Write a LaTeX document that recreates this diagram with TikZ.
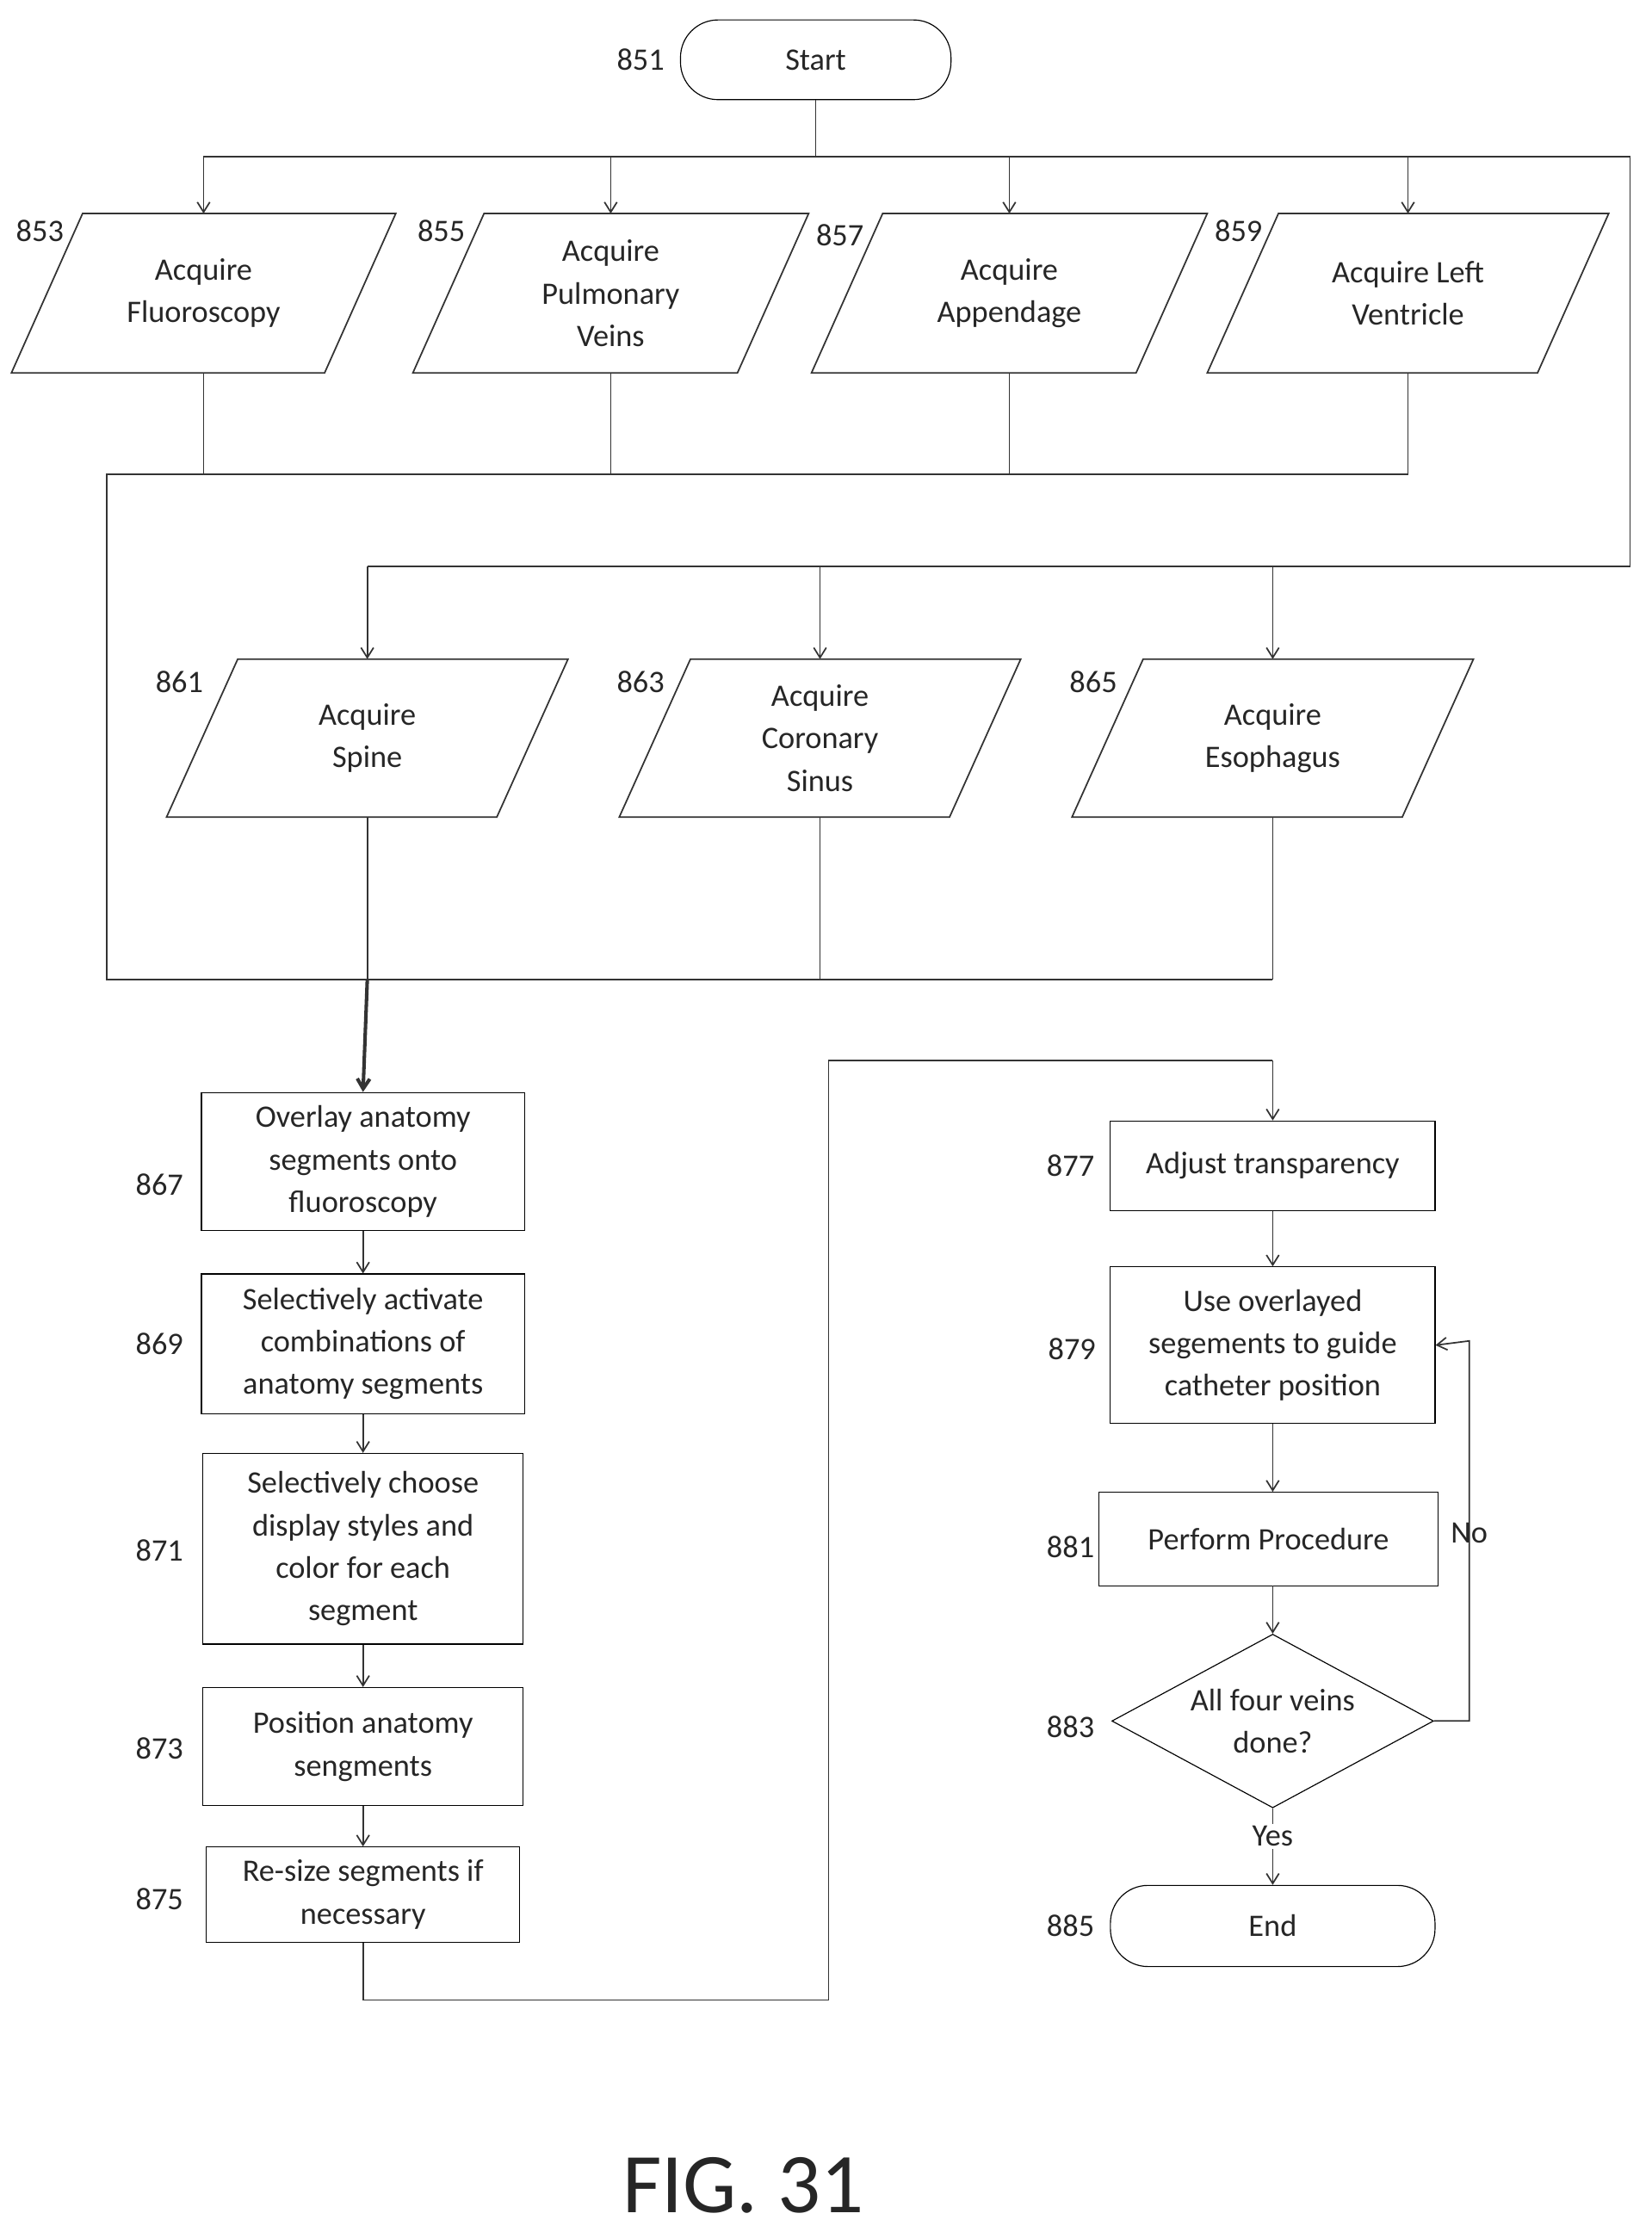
\documentclass[tikz,border=0pt]{standalone}
\usepackage{fontspec}
\setmainfont{Carlito}
\usetikzlibrary{shapes.geometric,arrows.meta}
\begin{document}
\begin{tikzpicture}[x=0.02cm,y=-0.02cm,
  every node/.style={font=\fontsize{12.5}{17}\selectfont, text=black!85},
  box/.style={draw, thin, align=center, inner sep=2pt},
  ln/.style={draw, black!80, line width=0.6pt},
  ar/.style={ln, -{Straight Barb[length=4pt,width=5pt]}},
  lbl/.style={font=\fontsize{12.5}{17}\selectfont}]
\useasboundingbox (0,0) rectangle (1160,1568);
% start
\node[box, rounded corners=15pt, minimum width=190*0.02cm, minimum height=56*0.02cm] (start) at (573,42) {Start};
\node[lbl] at (450,42) {851};
% parallelograms
\newcommand{\para}[6]{% name, cx, ytop, ybot, halfw, text
  \draw[ln] ({#2-#5+25},#3) -- ({#2+#5+25},#3) -- ({#2+#5-25},#4) -- ({#2-#5-25},#4) -- cycle;
  \node[align=center] (#1) at (#2,{(#3+#4)/2}) {#6};
  \coordinate (#1t) at (#2,#3); \coordinate (#1b) at (#2,#4);}
\para{p853}{143}{150}{262}{110}{Acquire\\Fluoroscopy}
\para{p855}{429}{150}{262}{114}{Acquire\\Pulmonary\\Veins}
\para{p857}{709}{150}{262}{114}{Acquire\\Appendage}
\para{p859}{989}{150}{262}{116}{Acquire Left\\Ventricle}
\para{p861}{258}{463}{574}{116}{Acquire\\Spine}
\para{p863}{576}{463}{574}{116}{Acquire\\Coronary\\Sinus}
\para{p865}{894}{463}{574}{116}{Acquire\\Esophagus}
\node[lbl] at (28,162) {853};
\node[lbl] at (310,162) {855};
\node[lbl] at (590,165) {857};
\node[lbl] at (870,162) {859};
\node[lbl] at (126,479) {861};
\node[lbl] at (450,479) {863};
\node[lbl] at (768,479) {865};
% top bus
\coordinate (s1) at (573,110);
\draw[ln] (start.south) -- (s1);
\draw[ln] (143,110) -- (1145,110) -- (1145,398) -- (258,398);
\foreach \n/\x in {p853/143,p855/429,p857/709,p859/989}
  \draw[ar] (\x,110) -- (\n t);
\foreach \n/\x in {p861/258,p863/576,p865/894}
  \draw[ar] (\x,398) -- (\n t);
% collection bus
\foreach \n in {p853,p855,p857,p859} \draw[ln] (\n b) -- ++(0,71);
\draw[ln] (989,333) -- (75,333) -- (75,688) -- (894,688);
\foreach \n in {p861,p863,p865} \draw[ln] (\n b) -- ++(0,114);
% left column
\node[box, minimum width=227*0.02cm, minimum height=97*0.02cm] (b867) at (255,816) {Overlay anatomy\\segments onto\\fluoroscopy};
\node[box, minimum width=227*0.02cm, minimum height=98*0.02cm] (b869) at (255,944) {Selectively activate\\combinations of\\anatomy segments};
\node[box, minimum width=225*0.02cm, minimum height=134*0.02cm] (b871) at (255,1088) {Selectively choose\\display styles and\\color for each\\segment};
\node[box, minimum width=225*0.02cm, minimum height=83*0.02cm] (b873) at (255,1227) {Position anatomy\\sengments};
\node[box, minimum width=220*0.02cm, minimum height=67*0.02cm] (b875) at (255,1331) {Re-size segments if\\necessary};
\node[lbl] at (112,832) {867};
\node[lbl] at (112,944) {869};
\node[lbl] at (112,1089) {871};
\node[lbl] at (112,1228) {873};
\node[lbl] at (112,1334) {875};
\draw[ar, line width=1.4pt] (258,688) -- (b867.north);
\draw[ar] (b867) -- (b869);
\draw[ar] (b869) -- (b871);
\draw[ar] (b871) -- (b873);
\draw[ar] (b873) -- (b875);
% right column
\node[box, minimum width=228*0.02cm, minimum height=63*0.02cm] (b877) at (894,819) {Adjust transparency};
\node[box, minimum width=228*0.02cm, minimum height=110*0.02cm] (b879) at (894,945) {Use overlayed\\segements to guide\\catheter position};
\node[box, minimum width=238*0.02cm, minimum height=66*0.02cm] (b881) at (891,1081) {Perform Procedure};
\node[draw, thin, diamond, aspect=1.85, inner sep=1pt, align=center, minimum width=226*0.02cm, minimum height=122*0.02cm] (d883) at (894,1209) {All four veins\\done?};
\node[box, rounded corners=15pt, minimum width=228*0.02cm, minimum height=57*0.02cm] (end) at (894,1353) {End};
\node[lbl] at (752,819) {877};
\node[lbl] at (753,948) {879};
\node[lbl] at (752,1087) {881};
\node[lbl] at (752,1213) {883};
\node[lbl] at (752,1353) {885};
\draw[ln] (b875.south) -- (255,1405) -- (582,1405) -- (582,745) -- (894,745);
\draw[ar] (894,745) -- (b877.north);
\draw[ar] (b877) -- (b879);
\draw[ar] (b879) -- (894,1048);
\draw[ar] (894,1114) -- (d883.north);
\draw[ar] (d883.east) -- (1032,1209) -- (1032,942) -- (b879.east);
\node[lbl] at (1032,1077) {No};
\draw[ar] (d883.south) -- (end.north);
\node[lbl, fill=white, inner sep=1pt] at (894,1290) {Yes};
\node[font=\fontsize{34}{40}\selectfont] at (522,1535) {FIG. 31};
\end{tikzpicture}
\end{document}
